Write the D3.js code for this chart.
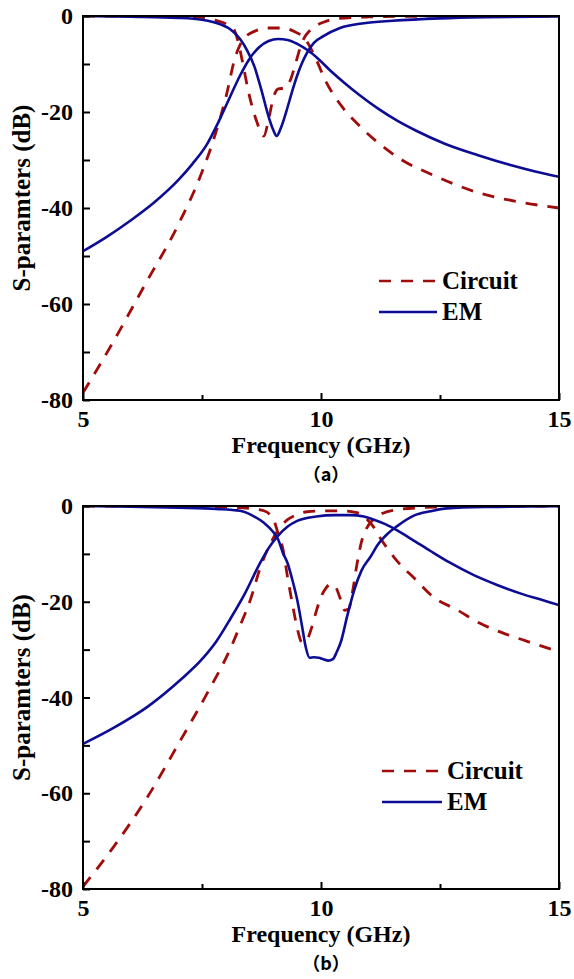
<!DOCTYPE html>
<html>
<head>
<meta charset="utf-8">
<script src="https://cdn.jsdelivr.net/npm/d3@7"></script>
<style>
body{margin:0;background:#fff;}
</style>
</head>
<body>
<div id="chart"></div>
<script>
// canvas
const width=574;
const height=979;
const xLeft=83, xRight=559;
const redColor="#a00c0c";
const blueColor="#0c0c94";
const serif="'Liberation Serif','Times New Roman',serif";

// tick values
const xMajor=[5,10,15];
const xMinor=[7.5,12.5];
const yMajor=[0,-20,-40,-60,-80];
const yMinor=[-10,-30,-50,-70];

// (a) EM, [GHz, dB]
const emS21a=[[5,-49],[5.5,-46],[6,-42.6],[6.5,-38.8],[7,-34.2],[7.3,-30.8],[7.6,-26.8],[7.85,-22],[8.1,-16.6],[8.3,-12.4],[8.5,-8.9],[8.7,-6.5],[8.9,-5.2],[9.1,-4.8],[9.3,-5],[9.5,-5.8],[9.73,-7.2],[9.95,-9],[10.2,-11.4],[10.5,-14],[10.8,-16.4],[11.2,-19.3],[11.6,-21.8],[12,-23.9],[12.6,-26.6],[13.3,-29],[14,-31.1],[14.5,-32.4],[15,-33.5]];
const emS11a=[[5,0],[6,-0.15],[7,-0.4],[7.5,-0.8],[7.9,-1.8],[8.1,-2.8],[8.3,-4.8],[8.45,-7.2],[8.6,-10.5],[8.75,-15.5],[8.9,-21],[9,-23.8],[9.07,-25],[9.15,-23.5],[9.28,-19.6],[9.4,-15.5],[9.5,-12.4],[9.7,-7.8],[9.85,-5.6],[10.05,-4.2],[10.4,-2.5],[10.9,-1.5],[11.5,-1],[12.5,-0.5],[13.5,-0.25],[15,-0.1]];
// (a) circuit
const ckS21a=[[5,-78.5],[5.6,-68.5],[6.3,-56],[7,-43.5],[7.5,-32.5],[7.8,-24],[8,-17],[8.2,-8.5],[8.3,-6],[8.4,-4.5],[8.6,-3.2],[8.9,-2.5],[9.2,-2.5],[9.45,-3.3],[9.65,-4.6],[9.85,-8],[10.1,-13.6],[10.45,-19],[10.75,-22.3],[11.2,-26.4],[11.7,-30],[12.3,-32.9],[13.3,-36.8],[14.2,-38.8],[15,-40]];
const ckS11a=[[5,0],[7,-0.05],[7.5,-0.3],[7.75,-0.8],[8,-1.6],[8.15,-2.5],[8.25,-5],[8.35,-9.5],[8.47,-15.5],[8.65,-22],[8.8,-25],[8.9,-21.5],[9,-17],[9.1,-15.2],[9.25,-15],[9.35,-13.5],[9.45,-10.5],[9.55,-7],[9.65,-4.5],[9.75,-3.2],[9.9,-2],[10.05,-1.3],[10.3,-0.6],[11,-0.2],[12,-0.05],[15,0]];

// (b) EM
const emS21b=[[5,-49.7],[5.65,-46.3],[6.36,-41.9],[7.05,-36.3],[7.5,-32],[7.8,-28.3],[8.1,-23.5],[8.4,-18.3],[8.7,-12.3],[8.9,-8.8],[9.1,-6.2],[9.3,-4.3],[9.5,-3.1],[9.9,-2.2],[10.3,-1.9],[10.6,-1.9],[10.9,-2.2],[11.1,-2.8],[11.35,-3.8],[11.6,-5.1],[11.9,-6.9],[12.3,-9.4],[12.7,-11.8],[13.2,-14.4],[13.7,-16.5],[14.2,-18.3],[14.6,-19.5],[15,-20.7]];
const emS11b=[[5,0],[6,-0.15],[7,-0.35],[7.8,-0.6],[8.3,-1],[8.6,-2.2],[8.8,-3.5],[9,-5.5],[9.1,-7],[9.2,-9.8],[9.3,-12],[9.4,-15.5],[9.5,-19.6],[9.6,-25],[9.68,-29.5],[9.76,-31.7],[9.85,-31.6],[9.95,-31.7],[10.05,-32],[10.15,-32.3],[10.25,-32],[10.33,-30.5],[10.42,-28.3],[10.55,-23],[10.7,-17.5],[10.85,-13.5],[11.04,-10.6],[11.2,-8],[11.4,-5.8],[11.6,-4.2],[11.95,-2],[12.3,-1.1],[12.65,-0.5],[13.5,-0.2],[15,-0.05]];
// (b) circuit
const ckS21b=[[5,-79.5],[5.65,-71.1],[6.36,-60.7],[7.05,-48.9],[7.61,-39.1],[8.1,-29.7],[8.3,-25],[8.52,-19.5],[8.73,-12.7],[8.94,-7.8],[9.1,-5],[9.29,-2.9],[9.5,-1.8],[9.71,-1.2],[10.1,-1],[10.41,-1],[10.65,-1.2],[10.83,-1.6],[10.97,-2.8],[11.1,-4.3],[11.25,-6.8],[11.39,-8.8],[11.6,-11.5],[11.95,-15],[12.36,-19],[12.86,-21.7],[13.34,-24.5],[14.04,-27.3],[14.5,-28.8],[15,-30.5]];
const ckS11b=[[5,0],[7,-0.05],[8,-0.2],[8.5,-0.5],[8.8,-1],[9,-2.8],[9.1,-5.8],[9.2,-9],[9.3,-15],[9.4,-20.5],[9.5,-25.5],[9.6,-28.5],[9.7,-28],[9.8,-25.5],[9.9,-22],[10,-19],[10.1,-17.2],[10.2,-16.3],[10.3,-16.8],[10.4,-19.2],[10.5,-21.8],[10.58,-21.5],[10.67,-17.5],[10.75,-12.5],[10.85,-7.5],[10.95,-4.8],[11.1,-2.8],[11.3,-1.5],[11.6,-0.8],[12,-0.4],[13,-0.1],[15,0]];

const panels=[
    {id:"a",top:16,bottom:400,caption:"（a）",legX:379,legW:58,
     circuit:[ckS21a,ckS11a],em:[emS21a,emS11a]},
    {id:"b",top:506,bottom:889,caption:"（b）",legX:382,legW:60,
     circuit:[ckS21b,ckS11b],em:[emS21b,emS11b]}
];

const svg=d3.select("#chart").append("svg")
    .attr("width",width).attr("height",height)
    .style("background","#fff");

const xScale=d3.scaleLinear().domain([5,15]).range([xLeft,xRight]);

function styleAxis(sel){
    sel.attr("font-family",serif).attr("font-size",24).attr("font-weight","bold");
    sel.select(".domain").remove();
    sel.selectAll(".tick line").attr("stroke","#000").attr("stroke-width",2);
    sel.selectAll(".tick text").attr("fill","#000")
        .style("font-family",serif).style("font-size","24px").style("font-weight","bold");
}

panels.forEach(p=>{
    const yScale=d3.scaleLinear().domain([-80,0]).range([p.bottom,p.top]);
    const g=svg.append("g");

    // clip
    g.append("clipPath").attr("id","clip-"+p.id)
        .append("rect").attr("x",xLeft).attr("y",p.top)
        .attr("width",xRight-xLeft).attr("height",p.bottom-p.top);

    const line=d3.line()
        .x(d=>xScale(d[0]))
        .y(d=>yScale(d[1]))
        .curve(d3.curveMonotoneX);

    const curves=g.append("g").attr("clip-path","url(#clip-"+p.id+")");
    p.circuit.forEach(c=>{
        curves.append("path").datum(c).attr("d",line)
            .attr("fill","none").attr("stroke",redColor)
            .attr("stroke-width",2.8).attr("stroke-dasharray","12,10");
    });
    p.em.forEach(c=>{
        curves.append("path").datum(c).attr("d",line)
            .attr("fill","none").attr("stroke",blueColor)
            .attr("stroke-width",2.6);
    });

    // axes (ticks inward)
    g.append("g").attr("transform",`translate(${xLeft},0)`)
        .call(d3.axisLeft(yScale).tickValues(yMajor).tickSize(-7).tickSizeOuter(0).tickPadding(10).tickFormat(d=>String(d)))
        .call(styleAxis);
    g.append("g").attr("transform",`translate(${xLeft},0)`)
        .call(d3.axisLeft(yScale).tickValues(yMinor).tickSize(-7).tickSizeOuter(0).tickFormat(""))
        .call(styleAxis);
    g.append("g").attr("transform",`translate(0,${p.bottom})`)
        .call(d3.axisBottom(xScale).tickValues(xMajor).tickSize(-7).tickSizeOuter(0).tickPadding(10).tickFormat(d=>String(d)))
        .call(styleAxis);
    g.append("g").attr("transform",`translate(0,${p.bottom})`)
        .call(d3.axisBottom(xScale).tickValues(xMinor).tickSize(-5).tickSizeOuter(0).tickFormat(""))
        .call(styleAxis);

    // frame
    g.append("rect").attr("x",xLeft).attr("y",p.top)
        .attr("width",xRight-xLeft).attr("height",p.bottom-p.top)
        .attr("fill","none").attr("stroke","#000").attr("stroke-width",2);

    // axis titles
    g.append("text")
        .attr("transform",`translate(30,${(p.top+p.bottom)/2-10}) rotate(-90)`)
        .attr("text-anchor","middle")
        .style("font-family",serif).style("font-weight","bold").style("font-size","25px")
        .text("S-paramters (dB)");
    g.append("text")
        .attr("x",(xLeft+xRight)/2).attr("y",p.bottom+53)
        .attr("text-anchor","middle")
        .style("font-family",serif).style("font-weight","bold").style("font-size","24px")
        .text("Frequency (GHz)");

    // caption
    g.append("text")
        .attr("x",326).attr("y",p.bottom+81)
        .attr("text-anchor","middle")
        .style("font-family","'Noto Sans CJK SC','Noto Sans',sans-serif")
        .style("font-size","18px").style("font-weight","bold")
        .text(p.caption);

    // legend
    const legY=p.top+265;
    const leg=[
        {name:"Circuit",color:redColor,dash:"12,10",y:legY},
        {name:"EM",color:blueColor,dash:null,y:legY+31}
    ];
    leg.forEach(l=>{
        g.append("line")
            .attr("x1",p.legX).attr("x2",p.legX+p.legW)
            .attr("y1",l.y).attr("y2",l.y)
            .attr("stroke",l.color).attr("stroke-width",2.6)
            .attr("stroke-dasharray",l.dash);
        g.append("text")
            .attr("x",p.legX+p.legW+5).attr("y",l.y+8)
            .style("font-family",serif).style("font-weight","bold").style("font-size","25px")
            .text(l.name);
    });
});
</script>
</body>
</html>
